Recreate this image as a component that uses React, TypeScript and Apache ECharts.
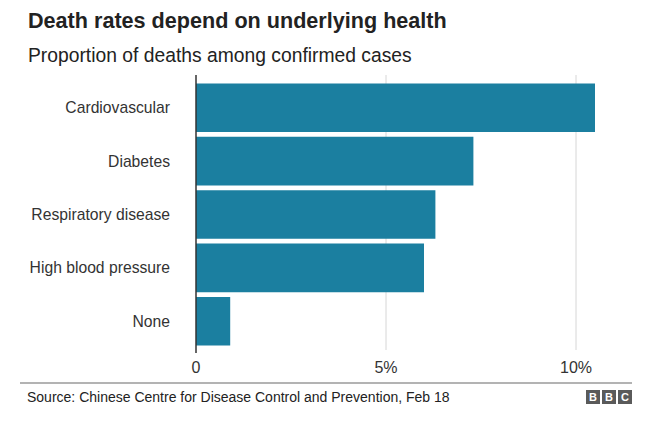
import React, { useEffect, useRef } from "react";
import * as echarts from "echarts";

const categories = ["Cardiovascular", "Diabetes", "Respiratory disease", "High blood pressure", "None"];
const deathRates = [10.5, 7.3, 6.3, 6.0, 0.9];
const xTicks = [0, 5, 10];
const titleText = "Death rates depend on underlying health";
const subtitleText = "Proportion of deaths among confirmed cases";
const sourceText = "Source: Chinese Centre for Disease Control and Prevention, Feb 18";

const FONT = "'Liberation Sans', Arial, Helvetica, sans-serif";

export default function App() {
  const ref = useRef<HTMLDivElement>(null);
  useEffect(() => {
    if (!ref.current) return;
    const chart = echarts.init(ref.current, undefined, { renderer: "svg" });
    const logoLetters = ["B", "B", "C"];
    const baseGraphics: any[] = [
      {
        type: "text",
        left: 28,
        top: 9,
        style: { text: titleText, font: `bold 21.6px ${FONT}`, fill: "#222" },
      },
      {
        type: "text",
        left: 28,
        top: 46,
        style: { text: subtitleText, font: `19.3px ${FONT}`, fill: "#222" },
      },
      {
        type: "line",
        shape: { x1: 20, y1: 383, x2: 632, y2: 383 },
        style: { stroke: "#9a9a9a", lineWidth: 1.5 },
      },
      {
        type: "text",
        left: 27,
        top: 390,
        style: { text: sourceText, font: `14px ${FONT}`, fill: "#222" },
      },
      ...logoLetters.flatMap((ch, i) => [
        {
          type: "rect",
          shape: { x: 586 + i * 16, y: 390, width: 14, height: 14 },
          style: { fill: "#5a5a5a" },
        },
        {
          type: "text",
          x: 593 + i * 16,
          y: 397,
          style: {
            text: ch,
            font: `bold 11px ${FONT}`,
            fill: "#fff",
            align: "center",
            verticalAlign: "middle",
          },
        },
      ]),
    ];
    chart.setOption({
      animation: false,
      backgroundColor: "#ffffff",
      textStyle: { fontFamily: FONT },
      grid: { left: 196, right: 38, top: 81, bottom: 75, containLabel: false },
      xAxis: {
        type: "value",
        min: 0,
        max: 11,
        interval: 5,
        axisLine: { show: false },
        axisTick: { show: false },
        axisLabel: {
          color: "#333",
          fontSize: 16,
          fontFamily: FONT,
          margin: 11,
          formatter: (v: number) => (xTicks.includes(v) ? (v === 0 ? "0" : v + "%") : ""),
        },
        splitLine: { show: false },
      },
      yAxis: {
        type: "category",
        data: categories,
        inverse: true,
        axisLine: { show: false },
        axisTick: { show: false },
        axisLabel: { color: "#333", fontSize: 15.7, fontFamily: FONT, margin: 26 },
      },
      series: [
        {
          type: "bar",
          data: deathRates,
          barCategoryGap: "9%",
          itemStyle: { color: "#1b7fa0" },
          silent: true,
          z: 3,
        },
      ],
      graphic: baseGraphics,
    });
    // Extended grid lines and axis line, positioned from the axis scale
    const lines = xTicks.map((t) => {
      const x = chart.convertToPixel({ xAxisIndex: 0 }, t) as number;
      return {
        type: "line",
        z: t === 0 ? 10 : 0,
        shape: { x1: x, y1: 75, x2: x, y2: t === 0 ? 353 : 350 },
        style: { stroke: t === 0 ? "#333" : "#d6d6d6", lineWidth: t === 0 ? 1.5 : 1 },
      };
    });
    chart.setOption({ graphic: [...baseGraphics, ...lines] }, { replaceMerge: ["graphic"] });
    return () => chart.dispose();
  }, []);
  return <div ref={ref} style={{ width: 652, height: 423, position: "absolute", left: 0, top: 0 }} />;
}
